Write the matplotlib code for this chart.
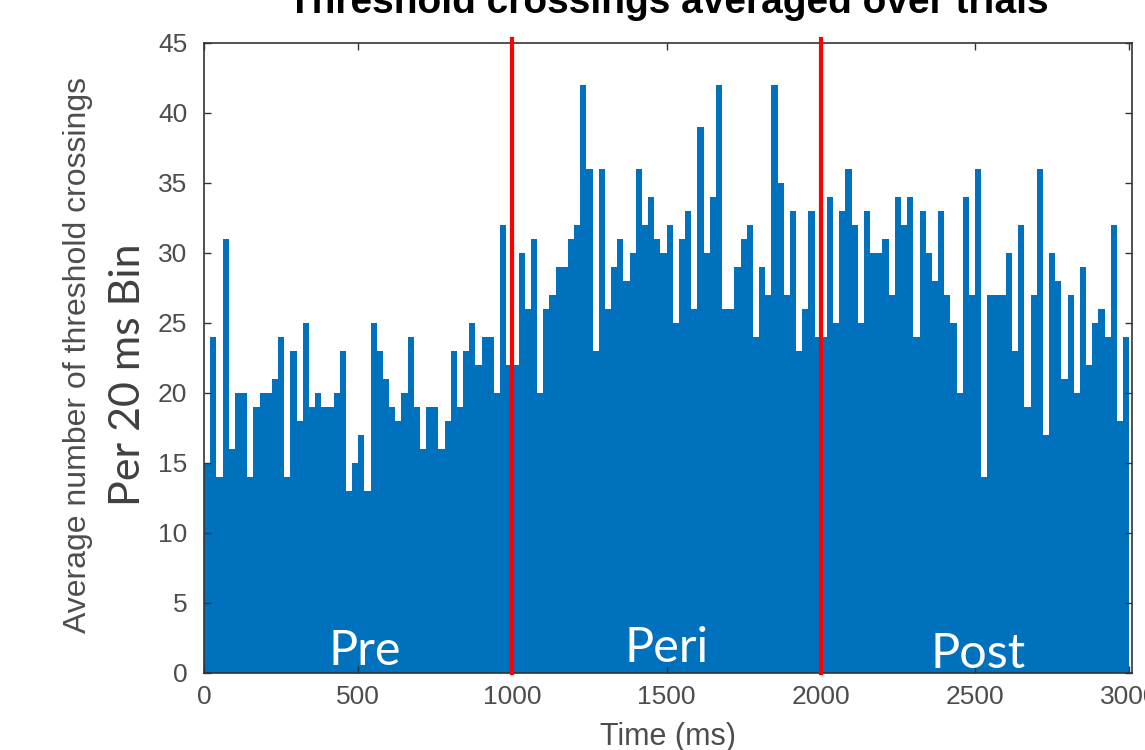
import numpy as np
import matplotlib
matplotlib.use("Agg")
import matplotlib.pyplot as plt

# threshold crossings per 20 ms bin
pre = [15, 24, 14, 31, 16, 20, 20, 14, 19, 20, 20, 21, 24, 14, 23, 18, 25, 19, 20, 19,
       19, 20, 23, 13, 15, 17, 13, 25, 23, 21, 19, 18, 20, 24, 19, 16, 19, 19, 16, 18,
       23, 19, 23, 25, 22, 24, 24, 20, 32, 22]
peri = [22, 30, 26, 31, 20, 26, 27, 29, 29, 31, 32, 42, 36, 23, 36, 26, 29, 31, 28, 30,
        36, 32, 34, 31, 30, 32, 25, 31, 33, 26, 39, 30, 34, 42, 26, 26, 29, 31, 32, 24,
        29, 27, 42, 35, 27, 33, 23, 26, 33, 24]
post = [24, 34, 25, 33, 36, 32, 25, 33, 30, 30, 31, 27, 34, 32, 34, 24, 33, 30, 28, 33,
        27, 25, 20, 34, 27, 36, 14, 27, 27, 27, 30, 23, 32, 19, 27, 36, 17, 30, 28, 21,
        27, 20, 29, 22, 25, 26, 24, 32, 18, 24]

bin_width = 20
boundaries = [1000, 2000]
phase_names = ["Pre", "Peri", "Post"]
phase_centers = [520, 1500, 2510]
phase_baselines = [0.55, 0.75, 0.3]

counts = pre + peri + post
edges = np.arange(len(counts)) * bin_width

plt.rcParams['font.family'] = ['Liberation Sans', 'DejaVu Sans']
label_color = '#4D4D4D'
axis_color = '#333333'

fig = plt.figure(figsize=(11.45, 7.5), dpi=100)
ax = fig.add_axes([204 / 1145, 1 - 672.5 / 750, 928 / 1145, 630 / 750])

ax.bar(edges, counts, width=bin_width, align='edge', color='#0072BD', linewidth=0)

for b in boundaries:
    ax.axvline(b, ymax=1.006, color='#FF0000', linewidth=3, zorder=3, clip_on=False)

for name, xc, yb in zip(phase_names, phase_centers, phase_baselines):
    ax.text(xc, yb, name, ha='center', va='baseline', color='white',
            fontsize=35, family=['Lato', 'DejaVu Sans'], zorder=4)

ax.set_xlim(0, 3009)
ax.set_ylim(0, 45)
ax.set_xticks(np.arange(0, 3001, 500))
ax.set_yticks(np.arange(0, 46, 5))
ax.tick_params(direction='in', length=5, width=1, color=axis_color,
               labelcolor=label_color, labelsize=19, top=True, right=True)
ax.tick_params(axis='x', pad=9)
ax.tick_params(axis='y', pad=12)
for s in ax.spines.values():
    s.set_color(axis_color)
    s.set_linewidth(1.2)

ax.set_xlabel("Time (ms)", fontsize=22, color=label_color, labelpad=9)

fig.text(78 / 1145, 1 - 355 / 750, "Average number of threshold crossings",
         rotation=90, ha='center', va='center', fontsize=23, color=label_color)
fig.text(128 / 1145, 1 - 375 / 750, "Per 20 ms Bin", rotation=90, ha='center',
         va='center', fontsize=31, color='#404040', family=['Lato', 'DejaVu Sans'])

fig.text(668 / 1145, 1 - 13 / 750, "Threshold crossings averaged over trials",
         ha='center', va='baseline', fontsize=28, weight='bold')

fig.savefig("out.png", dpi=100)
